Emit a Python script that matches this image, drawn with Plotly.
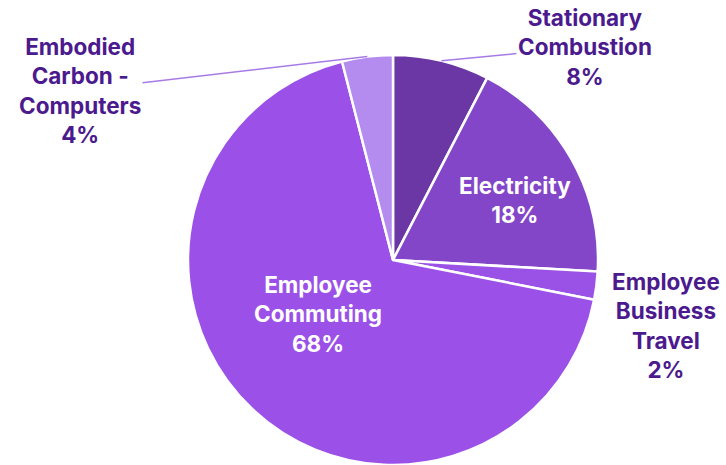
import math
import plotly.graph_objects as go

labels = ["Stationary Combustion", "Electricity", "Employee Business Travel",
          "Employee Commuting", "Embodied Carbon - Computers"]
values = [7.6, 18.3, 2.2, 67.9, 4.0]
colors = ["#6B37A5", "#8446C8", "#9A52E6", "#9B51E8", "#B48BEF"]
label_text = [
    "<b>Stationary<br>Combustion<br>8%</b>",
    "<b>Electricity<br>18%</b>",
    "<b>Employee<br>Business<br>Travel<br>2%</b>",
    "<b>Employee<br>Commuting<br>68%</b>",
    "<b>Embodied<br>Carbon -<br>Computers<br>4%</b>",
]

W, H = 726, 465
cx, cy, R = 393, 260, 205
dom_x = [(cx - R) / W, (cx + R) / W]
dom_y = [(H - cy - R) / H, (H - cy + R) / H]
FS = 22.5
FONT = "Inter"

fig = go.Figure(go.Pie(
    labels=labels, values=values, sort=False, direction="clockwise", rotation=0,
    marker=dict(colors=colors, line=dict(color="white", width=2.5)),
    textinfo="none",
    domain=dict(x=dom_x, y=dom_y), hoverinfo="label+percent", showlegend=False,
))

total = sum(values)
cum = 0
mids = []
for v in values:
    mids.append((cum + v / 2) / total * 2 * math.pi)
    cum += v

# label centre positions (px) and style
label_pos = {0: (585, 47), 1: (515, 200), 2: (666, 325), 3: (318, 314), 4: (80, 90)}
inside = {1, 3}
arrow = {0, 4}
for i, txt in enumerate(label_text):
    tx, ty = label_pos[i]
    color = "white" if i in inside else "#4B1A8E"
    if i in arrow:
        a = mids[i]
        tipx = cx + R * math.sin(a)
        tipy = cy - R * math.cos(a)
        fig.add_annotation(
            x=tipx / W, y=1 - tipy / H, xref="paper", yref="paper",
            ax=tx - tipx, ay=ty - tipy, showarrow=True, arrowhead=0,
            arrowwidth=1.5, arrowcolor="#A77BE6", standoff=0,
            text=txt, font=dict(family=FONT, size=FS, color=color), align="center",
        )
    else:
        fig.add_annotation(
            x=tx / W, y=1 - ty / H, xref="paper", yref="paper", showarrow=False,
            xanchor="center", yanchor="middle",
            text=txt, font=dict(family=FONT, size=FS, color=color), align="center",
        )

fig.update_layout(
    width=W, height=H, margin=dict(l=0, r=0, t=0, b=0),
    paper_bgcolor="white", plot_bgcolor="white",
)
fig.write_html("out.html")
